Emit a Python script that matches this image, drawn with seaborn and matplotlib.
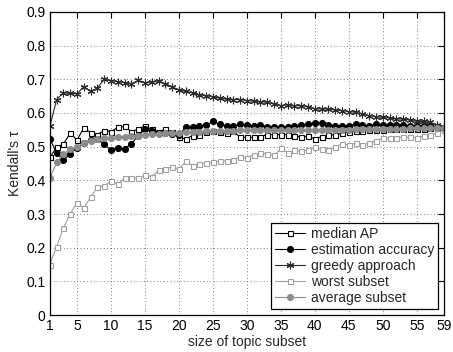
import numpy as np
import pandas as pd
import seaborn as sns
import matplotlib.pyplot as plt
from matplotlib.ticker import FuncFormatter

sizes = list(range(1, 60))

median_ap = [0.468, 0.498, 0.508, 0.540, 0.520, 0.555, 0.542, 0.536, 0.548, 0.545,
             0.557, 0.560, 0.545, 0.552, 0.562, 0.551, 0.545, 0.551, 0.545, 0.528,
             0.523, 0.533, 0.535, 0.543, 0.546, 0.543, 0.540, 0.546, 0.528, 0.528,
             0.528, 0.530, 0.536, 0.536, 0.536, 0.536, 0.533, 0.528, 0.531, 0.523,
             0.530, 0.535, 0.535, 0.540, 0.544, 0.546, 0.548, 0.549, 0.550, 0.550,
             0.551, 0.551, 0.552, 0.552, 0.553, 0.553, 0.554, 0.554, 0.555]

estimation = [0.523, 0.482, 0.461, 0.478, 0.497, 0.510, 0.521, 0.523, 0.507, 0.490,
              0.496, 0.494, 0.508, 0.533, 0.551, 0.548, 0.542, 0.540, 0.538, 0.535,
              0.557, 0.559, 0.562, 0.564, 0.575, 0.566, 0.562, 0.562, 0.566, 0.563,
              0.562, 0.565, 0.559, 0.557, 0.557, 0.559, 0.562, 0.565, 0.566, 0.571,
              0.569, 0.565, 0.562, 0.562, 0.562, 0.566, 0.565, 0.562, 0.566, 0.565,
              0.565, 0.565, 0.563, 0.562, 0.562, 0.561, 0.560, 0.558, 0.556]

greedy = [0.560, 0.640, 0.660, 0.658, 0.657, 0.678, 0.664, 0.674, 0.700, 0.696,
          0.693, 0.690, 0.686, 0.697, 0.690, 0.692, 0.695, 0.687, 0.678, 0.668,
          0.664, 0.660, 0.654, 0.651, 0.648, 0.644, 0.641, 0.640, 0.640, 0.637,
          0.635, 0.633, 0.632, 0.627, 0.622, 0.624, 0.622, 0.621, 0.619, 0.612,
          0.612, 0.612, 0.609, 0.607, 0.604, 0.602, 0.597, 0.592, 0.589, 0.587,
          0.585, 0.582, 0.582, 0.579, 0.575, 0.575, 0.572, 0.565, 0.559]

worst = [0.150, 0.203, 0.259, 0.300, 0.334, 0.318, 0.350, 0.379, 0.384, 0.397,
         0.389, 0.406, 0.406, 0.406, 0.416, 0.410, 0.430, 0.435, 0.440, 0.433,
         0.456, 0.444, 0.449, 0.451, 0.454, 0.456, 0.458, 0.460, 0.470, 0.467,
         0.476, 0.482, 0.479, 0.474, 0.495, 0.482, 0.490, 0.487, 0.490, 0.498,
         0.492, 0.490, 0.498, 0.508, 0.506, 0.510, 0.506, 0.510, 0.518, 0.525,
         0.526, 0.526, 0.528, 0.528, 0.526, 0.531, 0.535, 0.540, 0.550]

average = [0.407, 0.453, 0.478, 0.493, 0.500, 0.510, 0.518, 0.522, 0.525, 0.527,
           0.529, 0.530, 0.531, 0.533, 0.536, 0.538, 0.539, 0.540, 0.541, 0.542,
           0.544, 0.545, 0.545, 0.546, 0.547, 0.547, 0.548, 0.548, 0.549, 0.549,
           0.550, 0.550, 0.550, 0.550, 0.550, 0.550, 0.550, 0.550, 0.550, 0.550,
           0.550, 0.550, 0.550, 0.550, 0.550, 0.551, 0.551, 0.552, 0.552, 0.552,
           0.553, 0.553, 0.553, 0.554, 0.554, 0.555, 0.555, 0.555, 0.556]

x_ticks = [1, 5, 10, 15, 20, 25, 30, 35, 40, 45, 50, 55, 59]

sns.set_theme(style="white")
plt.rcParams['font.family'] = ['Liberation Sans', 'DejaVu Sans']

fig = plt.figure(figsize=(4.53, 3.52), dpi=100)
ax = fig.add_axes([0.110, 0.105, 0.870, 0.861])

# (label, values, marker, colour, marker face, marker size)
series = [
    ("median AP", median_ap, "s", "black", "white", 3.6),
    ("estimation accuracy", estimation, "o", "black", "black", 4.3),
    ("greedy approach", greedy, (6, 2, 0), "#2b2b2b", "#2b2b2b", 5.5),
    ("worst subset", worst, "s", "#a0a0a0", "white", 3.6),
    ("average subset", average, "o", "#8c8c8c", "#8c8c8c", 4.3),
]

for label, vals, mk, col, face, ms in series:
    sns.lineplot(x=sizes, y=vals, ax=ax, color=col, linewidth=0.8, marker=mk,
                 markersize=ms, markerfacecolor=face, markeredgecolor=col,
                 markeredgewidth=0.8, label=label)

ax.set_xlim(1, 59)
ax.set_ylim(0, 0.9)
ax.set_xticks(x_ticks)
ax.set_yticks(np.arange(0, 0.91, 0.1))
ax.yaxis.set_major_formatter(FuncFormatter(lambda v, p: "0" if abs(v) < 1e-9 else f"{v:.1f}"))
ax.grid(True, linestyle=(0, (1, 3)), color="#555555", linewidth=0.6)
ax.tick_params(direction="in", top=True, right=True, length=4, width=0.8,
               labelsize=10, colors="black", pad=3)
for s in ax.spines.values():
    s.set_color("black")
    s.set_linewidth(0.9)

ax.set_xlabel("size of topic subset", fontsize=10, labelpad=1)
ax.set_ylabel("Kendall's τ", fontsize=10, labelpad=3)

leg = ax.legend(loc="lower right", fontsize=10, fancybox=False, framealpha=1,
                edgecolor="black", borderaxespad=0.4, handlelength=2.2,
                labelspacing=0.15, handletextpad=0.4, borderpad=0.3)
leg.get_frame().set_linewidth(0.9)

fig.savefig("out.png", dpi=100)
